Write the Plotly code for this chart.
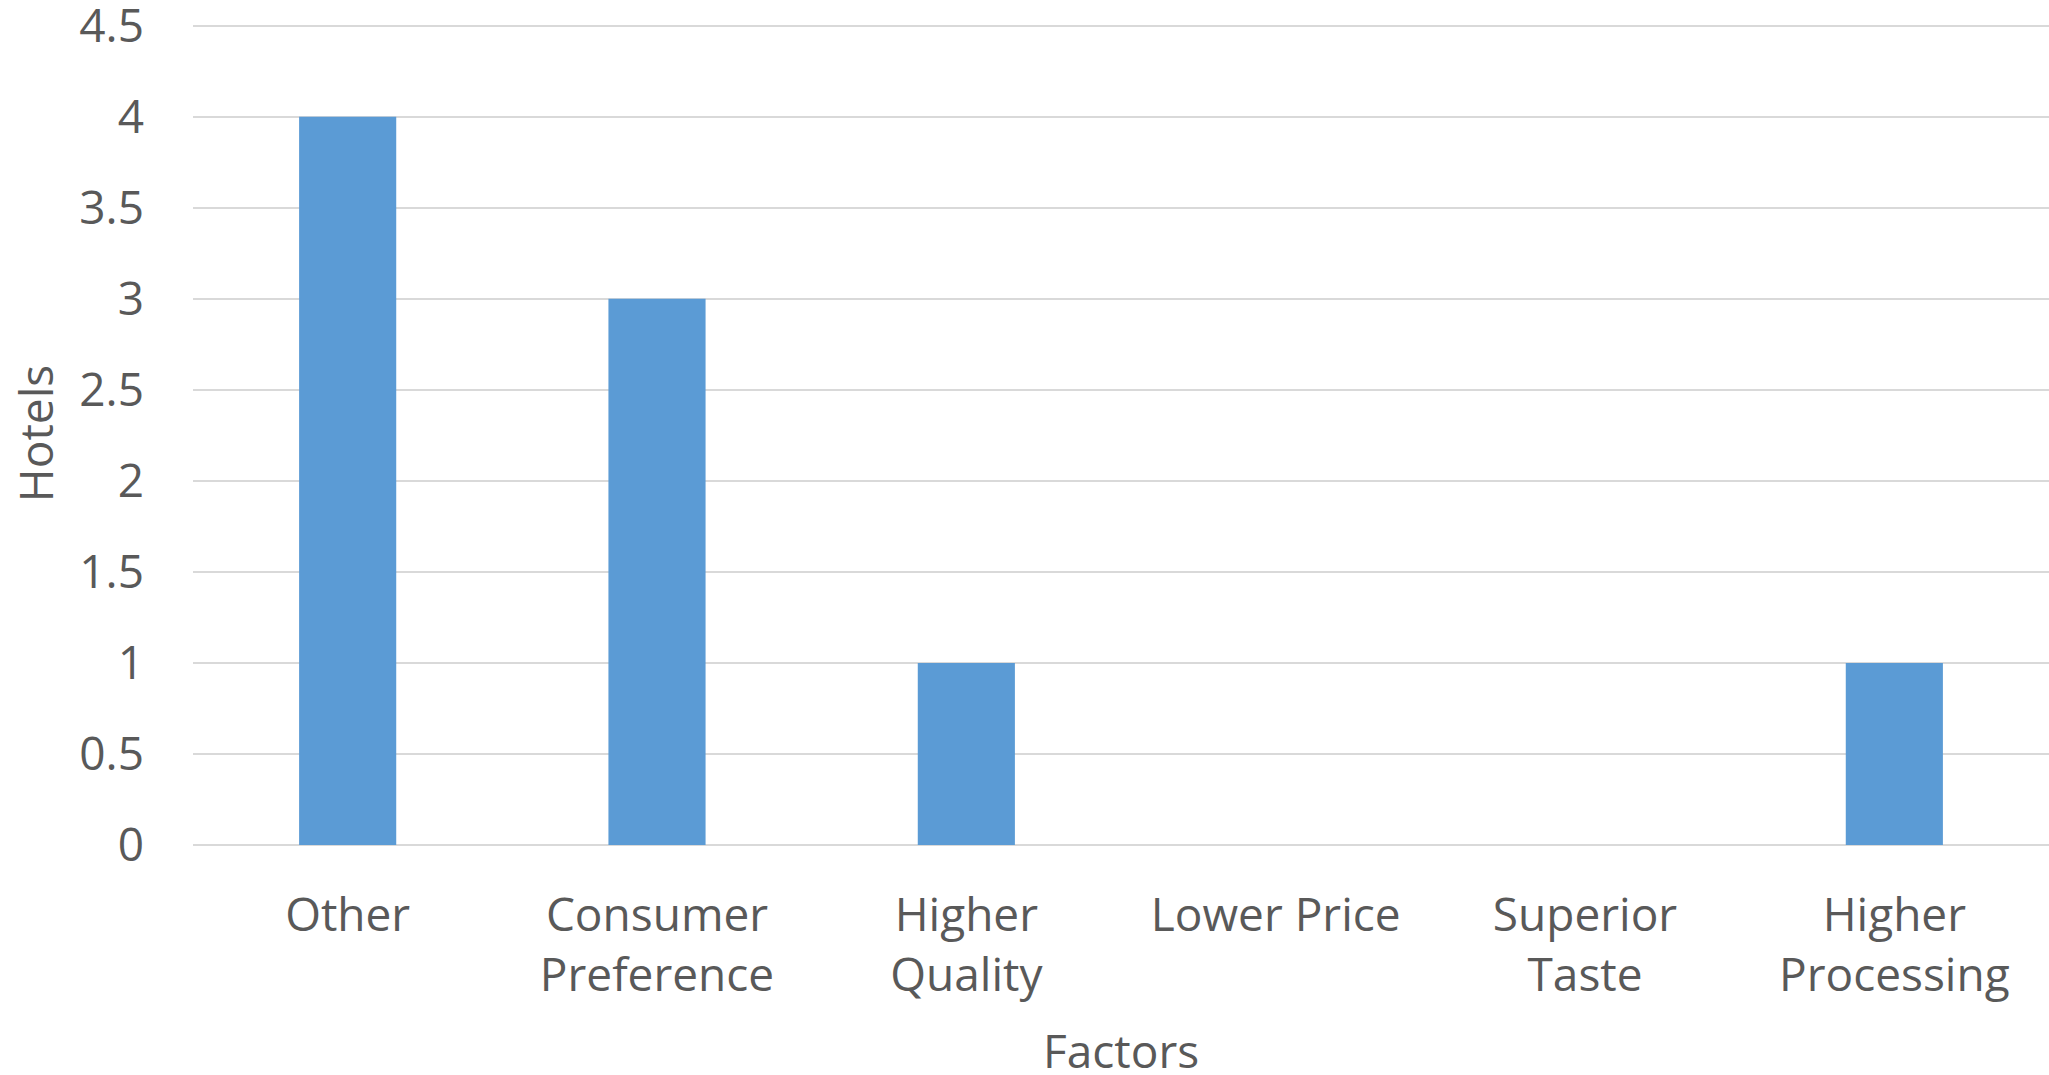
import plotly.graph_objects as go

# Factors behind the hotels' choice, number of hotels per factor
factors = ["Other", "Consumer<br>Preference", "Higher<br>Quality",
           "Lower Price", "Superior<br>Taste", "Higher<br>Processing"]
hotels = [4, 3, 1, 0, 0, 1]
y_ticks = [0, 0.5, 1, 1.5, 2, 2.5, 3, 3.5, 4, 4.5]
y_tick_labels = ["0", "0.5", "1", "1.5", "2", "2.5", "3", "3.5", "4", "4.5"]

TEXT = "#595959"
GRID = "#D9D9D9"
BAR = "#5B9BD5"
FONT = "Open Sans"

fig = go.Figure(
    go.Bar(x=factors, y=hotels, marker=dict(color=BAR, line=dict(width=0)))
)

fig.update_layout(
    width=2049,
    height=1075,
    margin=dict(l=193, r=0, t=22, b=230),
    paper_bgcolor="white",
    plot_bgcolor="white",
    bargap=0.686,
    showlegend=False,
    font=dict(family=FONT, size=46, color=TEXT),
)

fig.update_xaxes(
    showgrid=False,
    showline=False,
    ticks="",
    tickfont=dict(family=FONT, size=46, color=TEXT),
    ticklabelstandoff=39,
    automargin=False,
)

# x-axis title sits close to the bottom edge, so it is placed as an annotation
fig.add_annotation(
    text="Factors",
    xref="paper", yref="paper",
    x=0.5, y=-0.249,
    xanchor="center", yanchor="middle",
    showarrow=False,
    font=dict(family=FONT, size=46, color=TEXT),
)

fig.update_yaxes(
    range=[0, 4.52],
    tickvals=y_ticks,
    ticktext=y_tick_labels,
    showgrid=True,
    gridcolor=GRID,
    gridwidth=1.5,
    zeroline=True,
    zerolinecolor=GRID,
    zerolinewidth=1.5,
    showline=False,
    ticks="",
    tickfont=dict(family=FONT, size=46, color=TEXT),
    ticklabelstandoff=48,
    ticklabeloverflow="allow",
    title=dict(text="Hotels", font=dict(family=FONT, size=46, color=TEXT), standoff=11),
    automargin=False,
)

fig.write_html("out.html")
